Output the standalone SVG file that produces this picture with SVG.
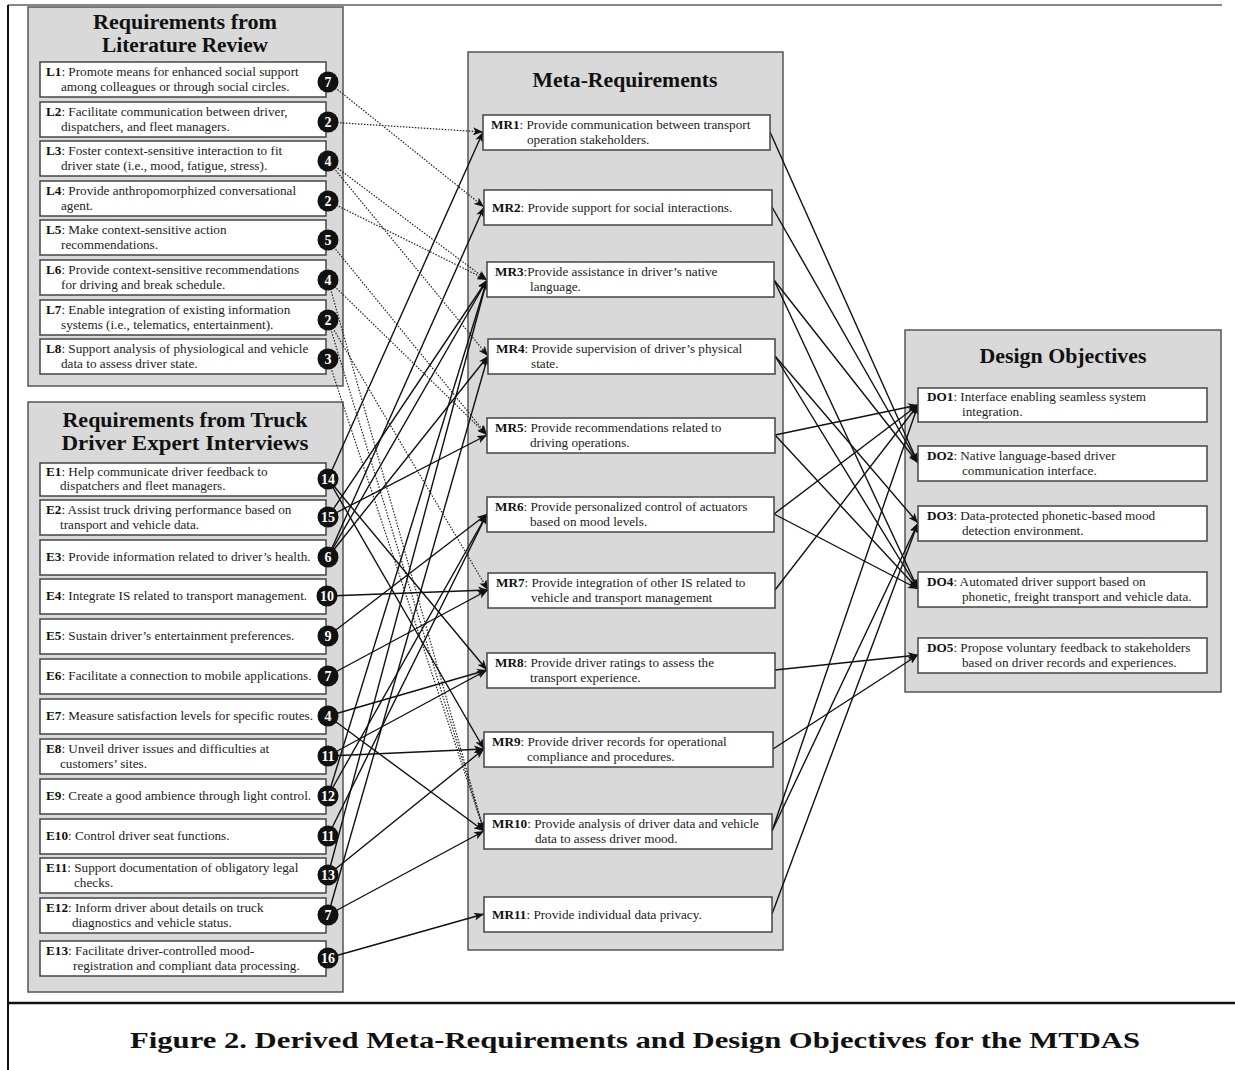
<svg xmlns="http://www.w3.org/2000/svg" width="1235" height="1070" viewBox="0 0 1235 1070">
<defs>
<style>
.panel{fill:#d9d9d9;stroke:#555;stroke-width:1.5}
.box{fill:#fff;stroke:#444;stroke-width:1.5}
.t{font-family:"Liberation Serif","DejaVu Serif",serif;font-size:13.2px;fill:#222}
.b{font-weight:bold;fill:#111}
.title{font-family:"Liberation Serif","DejaVu Serif",serif;font-size:20px;font-weight:bold;fill:#111;text-anchor:middle}
.badge circle{fill:#111}
.badge text{font-family:"Liberation Serif","DejaVu Serif",serif;font-size:14px;font-weight:bold;fill:#fff;text-anchor:middle}
.sl{stroke:#111;stroke-width:1.4;fill:none;marker-end:url(#ah)}
.dl{stroke:#222;stroke-width:1.2;stroke-dasharray:1.5 1.5;fill:none;marker-end:url(#ah)}
</style>
<marker id="ah" viewBox="0 0 10 8" refX="10" refY="4" markerWidth="10" markerHeight="8" markerUnits="userSpaceOnUse" orient="auto"><path d="M0,0 L10,4 L0,8 L2.5,4 z" fill="#111"/></marker>
</defs>
<rect width="1235" height="1070" fill="#fff"/>
<g id="frame" stroke="#111" fill="none">
<path d="M8,5 H1222" stroke-width="1.2"/>
<path d="M8,5 V1070" stroke-width="2"/>
<path d="M8,1003 H1235" stroke-width="2.5"/>
</g>
<g id="panels">
<g id="panel-literature"><rect class="panel" x="28" y="7" width="315" height="379"/>
<text class="title" x="185" y="29" textLength="184" lengthAdjust="spacingAndGlyphs">Requirements from</text><text class="title" x="185" y="51.5" textLength="166" lengthAdjust="spacingAndGlyphs">Literature Review</text></g>
<g id="panel-interviews"><rect class="panel" x="28" y="402" width="315" height="590"/>
<text class="title" x="185" y="427" textLength="245" lengthAdjust="spacingAndGlyphs">Requirements from Truck</text><text class="title" x="185" y="449.5" textLength="247" lengthAdjust="spacingAndGlyphs">Driver Expert Interviews</text></g>
<g id="panel-meta"><rect class="panel" x="468" y="52" width="315" height="898"/>
<text class="title" x="625" y="87" textLength="185" lengthAdjust="spacingAndGlyphs">Meta-Requirements</text></g>
<g id="panel-design"><rect class="panel" x="905" y="330" width="316" height="362"/>
<text class="title" x="1063" y="363" textLength="167" lengthAdjust="spacingAndGlyphs">Design Objectives</text></g>
</g>
<g id="connectors">
<path class="dl" d="M328,82 L484,207"/>
<path class="dl" d="M328,122 L483,132"/>
<path class="dl" d="M328,161 L487,280"/>
<path class="dl" d="M328,161 L488,356"/>
<path class="dl" d="M328,201 L487,280"/>
<path class="dl" d="M328,240 L487,435"/>
<path class="dl" d="M328,280 L487,435"/>
<path class="dl" d="M328,280 L484,831"/>
<path class="dl" d="M328,320 L488,590"/>
<path class="dl" d="M328,320 L484,831"/>
<path class="dl" d="M328,359 L484,831"/>
<path class="sl" d="M328,479 L483,132"/>
<path class="sl" d="M328,479 L487,670"/>
<path class="sl" d="M328,479 L484,749"/>
<path class="sl" d="M328,517 L487,280"/>
<path class="sl" d="M328,517 L487,435"/>
<path class="sl" d="M328,557 L484,207"/>
<path class="sl" d="M328,557 L487,280"/>
<path class="sl" d="M328,557 L488,356"/>
<path class="sl" d="M328,596 L488,590"/>
<path class="sl" d="M328,636 L487,514"/>
<path class="sl" d="M328,676 L488,590"/>
<path class="sl" d="M328,716 L487,670"/>
<path class="sl" d="M328,716 L484,831"/>
<path class="sl" d="M328,756 L487,670"/>
<path class="sl" d="M328,756 L484,749"/>
<path class="sl" d="M328,796 L487,514"/>
<path class="sl" d="M328,796 L487,280"/>
<path class="sl" d="M328,836 L487,514"/>
<path class="sl" d="M328,875 L484,749"/>
<path class="sl" d="M328,875 L487,280"/>
<path class="sl" d="M328,915 L484,831"/>
<path class="sl" d="M328,915 L488,356"/>
<path class="sl" d="M328,958 L484,914"/>
<path class="sl" d="M770,132 L918,463"/>
<path class="sl" d="M772,207 L918,463"/>
<path class="sl" d="M774,280 L918,463"/>
<path class="sl" d="M774,280 L918,589"/>
<path class="sl" d="M775,356 L918,523"/>
<path class="sl" d="M775,356 L918,589"/>
<path class="sl" d="M775,435 L918,405"/>
<path class="sl" d="M775,435 L918,589"/>
<path class="sl" d="M774,514 L918,405"/>
<path class="sl" d="M774,514 L918,589"/>
<path class="sl" d="M775,590 L918,405"/>
<path class="sl" d="M775,670 L918,655"/>
<path class="sl" d="M773,749 L918,655"/>
<path class="sl" d="M772,831 L918,405"/>
<path class="sl" d="M772,831 L918,523"/>
<path class="sl" d="M772,914 L918,523"/>
</g>
<g id="L1"><rect class="box" x="40" y="62" width="286" height="35"/><text class="t" x="46" y="76"><tspan class="b">L1</tspan>: Promote means for enhanced social support</text><text class="t" x="61" y="91">among colleagues or through social circles.</text><g class="badge"><circle cx="328" cy="82" r="10.5"/><text x="328" y="87">7</text></g></g>
<g id="L2"><rect class="box" x="40" y="102" width="286" height="35"/><text class="t" x="46" y="116"><tspan class="b">L2</tspan>: Facilitate communication between driver,</text><text class="t" x="61" y="131">dispatchers, and fleet managers.</text><g class="badge"><circle cx="328" cy="122" r="10.5"/><text x="328" y="127">2</text></g></g>
<g id="L3"><rect class="box" x="40" y="141" width="286" height="35"/><text class="t" x="46" y="155"><tspan class="b">L3</tspan>: Foster context-sensitive interaction to fit</text><text class="t" x="61" y="170">driver state (i.e., mood, fatigue, stress).</text><g class="badge"><circle cx="328" cy="161" r="10.5"/><text x="328" y="166">4</text></g></g>
<g id="L4"><rect class="box" x="40" y="181" width="286" height="35"/><text class="t" x="46" y="195"><tspan class="b">L4</tspan>: Provide anthropomorphized conversational</text><text class="t" x="61" y="210">agent.</text><g class="badge"><circle cx="328" cy="201" r="10.5"/><text x="328" y="206">2</text></g></g>
<g id="L5"><rect class="box" x="40" y="220" width="286" height="35"/><text class="t" x="46" y="234"><tspan class="b">L5</tspan>: Make context-sensitive action</text><text class="t" x="61" y="249">recommendations.</text><g class="badge"><circle cx="328" cy="240" r="10.5"/><text x="328" y="245">5</text></g></g>
<g id="L6"><rect class="box" x="40" y="260" width="286" height="35"/><text class="t" x="46" y="274"><tspan class="b">L6</tspan>: Provide context-sensitive recommendations</text><text class="t" x="61" y="289">for driving and break schedule.</text><g class="badge"><circle cx="328" cy="280" r="10.5"/><text x="328" y="285">4</text></g></g>
<g id="L7"><rect class="box" x="40" y="300" width="286" height="35"/><text class="t" x="46" y="314"><tspan class="b">L7</tspan>: Enable integration of existing information</text><text class="t" x="61" y="329">systems (i.e., telematics, entertainment).</text><g class="badge"><circle cx="328" cy="320" r="10.5"/><text x="328" y="325">2</text></g></g>
<g id="L8"><rect class="box" x="40" y="339" width="286" height="35"/><text class="t" x="46" y="353"><tspan class="b">L8</tspan>: Support analysis of physiological and vehicle</text><text class="t" x="61" y="368">data to assess driver state.</text><g class="badge"><circle cx="328" cy="359" r="10.5"/><text x="328" y="364">3</text></g></g>
<g id="E1"><rect class="box" x="40" y="463" width="286" height="33"/><text class="t" x="46" y="476"><tspan class="b">E1</tspan>: Help communicate driver feedback to</text><text class="t" x="60" y="490">dispatchers and fleet managers.</text><g class="badge"><circle cx="328" cy="479" r="10.5"/><text x="328" y="484">14</text></g></g>
<g id="E2"><rect class="box" x="40" y="500" width="286" height="35"/><text class="t" x="46" y="514"><tspan class="b">E2</tspan>: Assist truck driving performance based on</text><text class="t" x="60" y="529">transport and vehicle data.</text><g class="badge"><circle cx="328" cy="517" r="10.5"/><text x="328" y="522">15</text></g></g>
<g id="E3"><rect class="box" x="40" y="540" width="286" height="35"/><text class="t" x="46" y="561"><tspan class="b">E3</tspan>: Provide information related to driver’s health.</text><g class="badge"><circle cx="328" cy="557" r="10.5"/><text x="328" y="562">6</text></g></g>
<g id="E4"><rect class="box" x="40" y="579" width="286" height="35"/><text class="t" x="46" y="600"><tspan class="b">E4</tspan>: Integrate IS related to transport management.</text><g class="badge"><circle cx="327" cy="596" r="10.5"/><text x="327" y="601">10</text></g></g>
<g id="E5"><rect class="box" x="40" y="619" width="286" height="35"/><text class="t" x="46" y="640"><tspan class="b">E5</tspan>: Sustain driver’s entertainment preferences.</text><g class="badge"><circle cx="328" cy="636" r="10.5"/><text x="328" y="641">9</text></g></g>
<g id="E6"><rect class="box" x="40" y="659" width="286" height="35"/><text class="t" x="46" y="680"><tspan class="b">E6</tspan>: Facilitate a connection to mobile applications.</text><g class="badge"><circle cx="328" cy="676" r="10.5"/><text x="328" y="681">7</text></g></g>
<g id="E7"><rect class="box" x="40" y="699" width="286" height="35"/><text class="t" x="46" y="720"><tspan class="b">E7</tspan>: Measure satisfaction levels for specific routes.</text><g class="badge"><circle cx="328" cy="716" r="10.5"/><text x="328" y="721">4</text></g></g>
<g id="E8"><rect class="box" x="40" y="739" width="286" height="35"/><text class="t" x="46" y="753"><tspan class="b">E8</tspan>: Unveil driver issues and difficulties at</text><text class="t" x="60" y="768">customers’ sites.</text><g class="badge"><circle cx="328" cy="756" r="10.5"/><text x="328" y="761">11</text></g></g>
<g id="E9"><rect class="box" x="40" y="779" width="286" height="35"/><text class="t" x="46" y="800"><tspan class="b">E9</tspan>: Create a good ambience through light control.</text><g class="badge"><circle cx="328" cy="796" r="10.5"/><text x="328" y="801">12</text></g></g>
<g id="E10"><rect class="box" x="40" y="819" width="286" height="35"/><text class="t" x="46" y="840"><tspan class="b">E10</tspan>: Control driver seat functions.</text><g class="badge"><circle cx="328" cy="836" r="10.5"/><text x="328" y="841">11</text></g></g>
<g id="E11"><rect class="box" x="40" y="858" width="286" height="35"/><text class="t" x="46" y="872"><tspan class="b">E11</tspan>: Support documentation of obligatory legal</text><text class="t" x="74" y="887">checks.</text><g class="badge"><circle cx="328" cy="875" r="10.5"/><text x="328" y="880">13</text></g></g>
<g id="E12"><rect class="box" x="40" y="898" width="286" height="35"/><text class="t" x="46" y="912"><tspan class="b">E12</tspan>: Inform driver about details on truck</text><text class="t" x="72" y="927">diagnostics and vehicle status.</text><g class="badge"><circle cx="328" cy="915" r="10.5"/><text x="328" y="920">7</text></g></g>
<g id="E13"><rect class="box" x="40" y="941" width="286" height="35"/><text class="t" x="46" y="955"><tspan class="b">E13</tspan>: Facilitate driver-controlled mood-</text><text class="t" x="73" y="970">registration and compliant data processing.</text><g class="badge"><circle cx="328" cy="958" r="10.5"/><text x="328" y="963">16</text></g></g>
<g id="MR1"><rect class="box" x="483" y="115" width="287" height="35"/><text class="t" x="491" y="129"><tspan class="b">MR1</tspan>: Provide communication between transport</text><text class="t" x="527" y="144">operation stakeholders.</text></g>
<g id="MR2"><rect class="box" x="484" y="190" width="288" height="35"/><text class="t" x="492" y="212"><tspan class="b">MR2</tspan>: Provide support for social interactions.</text></g>
<g id="MR3"><rect class="box" x="487" y="262" width="287" height="35"/><text class="t" x="495" y="276"><tspan class="b">MR3</tspan>:Provide assistance in driver’s native</text><text class="t" x="530" y="291">language.</text></g>
<g id="MR4"><rect class="box" x="488" y="339" width="287" height="35"/><text class="t" x="496" y="353"><tspan class="b">MR4</tspan>: Provide supervision of driver’s physical</text><text class="t" x="531" y="368">state.</text></g>
<g id="MR5"><rect class="box" x="487" y="418" width="288" height="35"/><text class="t" x="495" y="432"><tspan class="b">MR5</tspan>: Provide recommendations related to</text><text class="t" x="530" y="447">driving operations.</text></g>
<g id="MR6"><rect class="box" x="487" y="497" width="287" height="35"/><text class="t" x="495" y="511"><tspan class="b">MR6</tspan>: Provide personalized control of actuators</text><text class="t" x="530" y="526">based on mood levels.</text></g>
<g id="MR7"><rect class="box" x="488" y="573" width="287" height="35"/><text class="t" x="496" y="587"><tspan class="b">MR7</tspan>: Provide integration of other IS related to</text><text class="t" x="531" y="602">vehicle and transport management</text></g>
<g id="MR8"><rect class="box" x="487" y="653" width="288" height="35"/><text class="t" x="495" y="667"><tspan class="b">MR8</tspan>: Provide driver ratings to assess the</text><text class="t" x="530" y="682">transport experience.</text></g>
<g id="MR9"><rect class="box" x="484" y="732" width="289" height="35"/><text class="t" x="492" y="746"><tspan class="b">MR9</tspan>: Provide driver records for operational</text><text class="t" x="527" y="761">compliance and procedures.</text></g>
<g id="MR10"><rect class="box" x="484" y="814" width="288" height="35"/><text class="t" x="492" y="828"><tspan class="b">MR10</tspan>: Provide analysis of driver data and vehicle</text><text class="t" x="535" y="843">data to assess driver mood.</text></g>
<g id="MR11"><rect class="box" x="484" y="897" width="288" height="35"/><text class="t" x="492" y="919"><tspan class="b">MR11</tspan>: Provide individual data privacy.</text></g>
<g id="DO1"><rect class="box" x="918" y="388" width="289" height="34"/><text class="t" x="927" y="401"><tspan class="b">DO1</tspan>: Interface enabling seamless system</text><text class="t" x="962" y="416">integration.</text></g>
<g id="DO2"><rect class="box" x="918" y="446" width="289" height="35"/><text class="t" x="927" y="460"><tspan class="b">DO2</tspan>: Native language-based driver</text><text class="t" x="962" y="475">communication interface.</text></g>
<g id="DO3"><rect class="box" x="918" y="506" width="289" height="35"/><text class="t" x="927" y="520"><tspan class="b">DO3</tspan>: Data-protected phonetic-based mood</text><text class="t" x="962" y="535">detection environment.</text></g>
<g id="DO4"><rect class="box" x="918" y="572" width="289" height="35"/><text class="t" x="927" y="586"><tspan class="b">DO4</tspan>: Automated driver support based on</text><text class="t" x="962" y="601">phonetic, freight transport and vehicle data.</text></g>
<g id="DO5"><rect class="box" x="918" y="638" width="289" height="35"/><text class="t" x="927" y="652"><tspan class="b">DO5</tspan>: Propose voluntary feedback to stakeholders</text><text class="t" x="962" y="667">based on driver records and experiences.</text></g>
<text id="caption" x="635" y="1048" font-family="'Liberation Serif','DejaVu Serif',serif" font-size="24" font-weight="bold" fill="#111" text-anchor="middle" textLength="1010" lengthAdjust="spacingAndGlyphs">Figure 2. Derived Meta-Requirements and Design Objectives for the MTDAS</text>
</svg>
